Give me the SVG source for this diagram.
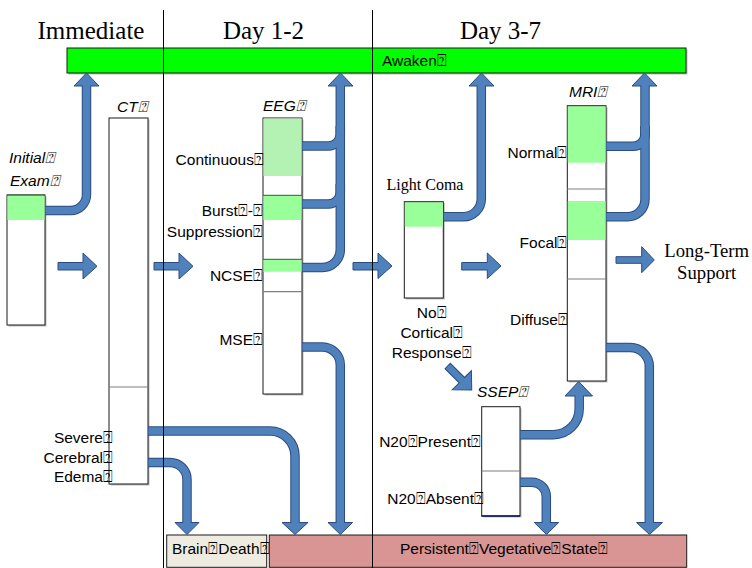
<svg xmlns="http://www.w3.org/2000/svg" width="752" height="568" viewBox="0 0 752 568">
<style>
.bx{fill:#fff;stroke:#1a1a1a;stroke-width:1}
.sh{fill:#bdbdbd}
.g{fill:#99ff99}
.gl{fill:#b3f2b3}
.gt{stroke:#2f5f2f;stroke-width:1}
.dv{stroke:#7f7f7f;stroke-width:1.2}
.o{fill:none;stroke:#2c4c7c;stroke-width:9.5}
.i{fill:none;stroke:#4f81bd;stroke-width:7.5}
.h{fill:#4f81bd;stroke:#2c4c7c;stroke-width:1;stroke-linejoin:miter}
.t{font-family:"Liberation Sans",Arial,sans-serif;font-size:15.5px;fill:#000}
.it{font-style:italic}
.tm{font-family:"Liberation Serif","Times New Roman",serif;fill:#000}
.e{text-anchor:end}
.m{text-anchor:middle}
.ln{stroke:#000;stroke-width:1}
</style>

<!-- headers -->
<g id="headers">
<text class="tm" x="91" y="39" font-size="25" text-anchor="middle">Immediate</text>
<text class="tm" x="263.5" y="39" font-size="25" text-anchor="middle">Day 1-2</text>
<text class="tm" x="500.5" y="39" font-size="25" text-anchor="middle">Day 3-7</text>
</g>

<!-- Awaken bar -->
<g id="awaken">
<rect class="sh" x="68.5" y="49.5" width="619" height="25"/>
<rect x="67" y="48" width="619" height="25" fill="#00ff00" stroke="#1a1a1a" stroke-width="1"/>
<text class="t" x="382" y="66" font-size="16.5">Awaken⍰</text>
</g>

<!-- Initial exam -->
<g id="initial-exam">
<text class="t it" x="9" y="163" font-size="18.5">Initial⍰</text>
<text class="t it" x="10" y="186" font-size="18.5">Exam⍰</text>
<rect class="sh" x="8.5" y="196.5" width="38" height="130"/>
<rect class="bx" x="7" y="195" width="38" height="130"/>
<rect class="g" x="7.5" y="195.5" width="37" height="24.5"/>
<line class="gt" x1="7" y1="195" x2="45" y2="195"/>
</g>

<!-- CT -->
<g id="ct">
<text class="t it" x="117" y="112" font-size="15.5">CT⍰</text>
<rect class="sh" x="110.5" y="119.5" width="39" height="366"/>
<rect class="bx" x="109" y="118" width="39" height="366"/>
<line class="dv" x1="109" y1="387" x2="148" y2="387"/>
<text class="t e" x="113" y="443">Severe⍰</text>
<text class="t e" x="113" y="462.5">Cerebral⍰</text>
<text class="t e" x="113" y="482">Edema⍰</text>
</g>

<!-- EEG -->
<g id="eeg">
<text class="t it" x="263" y="111" font-size="15.5">EEG⍰</text>
<rect class="sh" x="264.5" y="119.5" width="39" height="276"/>
<rect class="bx" x="263" y="118" width="39" height="276"/>
<rect class="gl" x="263.5" y="118.5" width="38" height="57.5"/>
<rect class="g" x="263.5" y="195.3" width="38" height="24.7"/>
<line class="gt" x1="263" y1="195.3" x2="302" y2="195.3"/>
<rect class="g" x="263.5" y="259.3" width="38" height="12.4"/>
<line class="gt" x1="263" y1="259.3" x2="302" y2="259.3"/>
<line class="dv" x1="263" y1="291.7" x2="302" y2="291.7"/>
<text class="t e" x="264" y="165">Continuous⍰</text>
<text class="t e" x="263" y="215.7">Burst⍰-⍰</text>
<text class="t e" x="263" y="236.7">Suppression⍰</text>
<text class="t e" x="263" y="280.7">NCSE⍰</text>
<text class="t e" x="263" y="345">MSE⍰</text>
</g>

<!-- Light coma -->
<g id="light-coma">
<text class="tm" x="425" y="190" font-size="16" text-anchor="middle">Light Coma</text>
<rect class="sh" x="405.8" y="203.2" width="39" height="96.3"/>
<rect class="bx" x="404.3" y="201.7" width="39" height="96.3"/>
<rect class="g" x="404.8" y="202.2" width="38" height="24.5"/>
<line class="gt" x1="404.3" y1="201.7" x2="443.3" y2="201.7"/>
<text class="t m" x="431.7" y="318">No⍰</text>
<text class="t m" x="431.7" y="338">Cortical⍰</text>
<text class="t m" x="431.7" y="358">Response⍰</text>
</g>

<!-- MRI -->
<g id="mri">
<text class="t it" x="569" y="97" font-size="15.5">MRI⍰</text>
<rect class="sh" x="568.8" y="107.2" width="38.7" height="275.3"/>
<rect class="bx" x="567.3" y="105.7" width="38.7" height="275.3"/>
<rect class="g" x="567.8" y="106.2" width="37.7" height="56.5"/>
<line class="gt" x1="567.3" y1="105.7" x2="606" y2="105.7"/>
<line class="dv" x1="567.3" y1="189" x2="606" y2="189"/>
<rect class="g" x="567.8" y="201" width="37.7" height="39"/>
<line class="dv" x1="567.3" y1="279" x2="606" y2="279"/>
<text class="t e" x="567.5" y="158">Normal⍰</text>
<text class="t e" x="567.5" y="248">Focal⍰</text>
<text class="t e" x="568" y="325">Diffuse⍰</text>
</g>

<!-- Long-term support -->
<g id="long-term">
<text class="tm" x="706.7" y="256.7" font-size="18.7" text-anchor="middle">Long-Term</text>
<text class="tm" x="706.7" y="279.3" font-size="18.7" text-anchor="middle">Support</text>
</g>

<!-- SSEP -->
<g id="ssep">
<text class="t it" x="477" y="397" font-size="15.5">SSEP⍰</text>
<rect class="sh" x="483.2" y="408.2" width="38.3" height="109.3"/>
<rect class="bx" x="481.7" y="406.7" width="38.3" height="109.3"/>
<line class="dv" x1="481.7" y1="471" x2="520" y2="471"/>
<line x1="481.7" y1="516" x2="520" y2="516" stroke="#0a1a66" stroke-width="1.3"/>
<text class="t e" x="481" y="446.7">N20⍰Present⍰</text>
<text class="t e" x="484" y="504">N20⍰Absent⍰</text>
</g>

<!-- outcome boxes -->
<g id="brain-death">
<rect x="166.7" y="535" width="100" height="32.3" fill="#eeece1" stroke="#1a1a1a" stroke-width="1"/>
<text class="t" x="172" y="554" font-size="15">Brain⍰Death⍰</text>
</g>
<g id="pvs">
<rect x="269.3" y="535" width="417.4" height="32.3" fill="#d99594" stroke="#1a1a1a" stroke-width="1"/>
<text class="t" x="400" y="554" font-size="16.5">Persistent⍰Vegetative⍰State⍰</text>
</g>

<!-- connectors -->
<g id="connectors">
<!-- straight block arrows -->
<polygon class="h" points="58,262.5 83,262.5 83,253 97,266.3 83,279 83,270 58,270"/>
<polygon class="h" points="154,262.5 179,262.5 179,253 193,266.3 179,279 179,270 154,270"/>
<polygon class="h" points="353,262.5 378,262.5 378,253 392,266 378,278.5 378,270 353,270"/>
<polygon class="h" points="461.7,262.5 487.3,262.5 487.3,253 501,266 487.3,278.5 487.3,270 461.7,270"/>
<polygon class="h" points="616,256.7 641.7,256.7 641.7,246.7 654.3,260 641.7,272.7 641.7,263.3 616,263.3"/>
<polygon class="h" transform="translate(447.7,366) rotate(45)" points="0,-3.8 20,-3.8 20,-13.5 34,0 20,13.5 20,3.8 0,3.8"/>

<!-- Initial exam -> Awaken -->
<g id="c-initial-awaken">
<path class="o" d="M45,210.5 H70 A16,16 0 0 0 86.5,194 V84"/>
<polygon class="h" points="74,86 86.5,73 99,86"/>
<path class="i" d="M45.5,210.5 H70 A16,16 0 0 0 86.5,194 V85"/>
</g>

<!-- CT -> PVS -->
<g id="c-ct-pvs">
<path class="o" d="M148,431 H270 A25,25 0 0 1 295,456 V524"/>
<polygon class="h" points="282,522.5 295,534.5 308,522.5"/>
<path class="i" d="M148.5,431 H270 A25,25 0 0 1 295,456 V523.5"/>
</g>

<!-- CT -> Brain death -->
<g id="c-ct-bd">
<path class="o" d="M148,462.5 H170 A17,17 0 0 1 187,479.5 V524"/>
<polygon class="h" points="175,522.5 187,534.5 199,522.5"/>
<path class="i" d="M148.5,462.5 H170 A17,17 0 0 1 187,479.5 V523.5"/>
</g>

<!-- EEG MSE -> PVS -->
<g id="c-mse-pvs">
<path class="o" d="M302,347 H322 A18,18 0 0 1 340.3,365 V524"/>
<polygon class="h" points="328,522.5 340.3,534.5 352.6,522.5"/>
<path class="i" d="M302.5,347 H322 A18,18 0 0 1 340.3,365 V523.5"/>
</g>

<!-- EEG -> Awaken -->
<g id="c-eeg-awaken">
<path class="o" d="M302,267.5 H322 A18,18 0 0 0 340.3,249.5 V84"/>
<path class="o" d="M302,146 H328 A12,12 0 0 0 340.3,134 V126"/>
<path class="o" d="M302,204 H328 A12,12 0 0 0 340.3,192 V184"/>
<polygon class="h" points="328,86 340.5,73 353,86"/>
<path class="i" d="M302.5,267.5 H322 A18,18 0 0 0 340.3,249.5 V85"/>
<path class="i" d="M302.5,146 H328 A12,12 0 0 0 340.3,134 V126"/>
<path class="i" d="M302.5,204 H328 A12,12 0 0 0 340.3,192 V184"/>
</g>

<!-- Light coma -> Awaken -->
<g id="c-lc-awaken">
<path class="o" d="M443.3,216.7 H463 A18,18 0 0 0 481.3,198.7 V84"/>
<polygon class="h" points="469,86 481.5,73 494,86"/>
<path class="i" d="M443.8,216.7 H463 A18,18 0 0 0 481.3,198.7 V85"/>
</g>

<!-- MRI -> Awaken -->
<g id="c-mri-awaken">
<path class="o" d="M606,216.8 H627.5 A17.5,17.5 0 0 0 645,199.3 V84"/>
<path class="o" d="M606,146.3 H633 A12,12 0 0 0 645,134.3 V126"/>
<polygon class="h" points="632,86 644.5,73 657,86"/>
<path class="i" d="M606.5,216.8 H627.5 A17.5,17.5 0 0 0 645,199.3 V85"/>
<path class="i" d="M606.5,146.3 H633 A12,12 0 0 0 645,134.3 V126"/>
</g>

<!-- MRI diffuse -> PVS -->
<g id="c-mri-pvs">
<path class="o" d="M606,347.5 H630 A19,19 0 0 1 649.3,366.5 V524"/>
<polygon class="h" points="636.5,522.5 649.5,534.5 662.5,522.5"/>
<path class="i" d="M606.5,347.5 H630 A19,19 0 0 1 649.3,366.5 V523.5"/>
</g>

<!-- SSEP present -> MRI -->
<g id="c-ssep-mri">
<path class="o" d="M520,434.7 H553 A26,26 0 0 0 579.2,408.7 V395"/>
<polygon class="h" points="565,396 578.7,381.5 592.5,396"/>
<path class="i" d="M520.5,434.7 H553 A26,26 0 0 0 579.2,408.7 V394.5"/>
</g>

<!-- SSEP absent -> PVS -->
<g id="c-ssep-pvs">
<path class="o" d="M520,482.2 H532 A14.3,14.3 0 0 1 546.3,496.5 V524"/>
<polygon class="h" points="534.3,522.5 546.5,534.5 558.7,522.5"/>
<path class="i" d="M520.5,482.2 H532 A14.3,14.3 0 0 1 546.3,496.5 V523.5"/>
</g>
</g>

<!-- column separators -->
<g id="separators">
<line class="ln" x1="163.5" y1="10" x2="163.5" y2="568"/>
<line class="ln" x1="372.5" y1="10" x2="372.5" y2="568"/>
</g>
</svg>
